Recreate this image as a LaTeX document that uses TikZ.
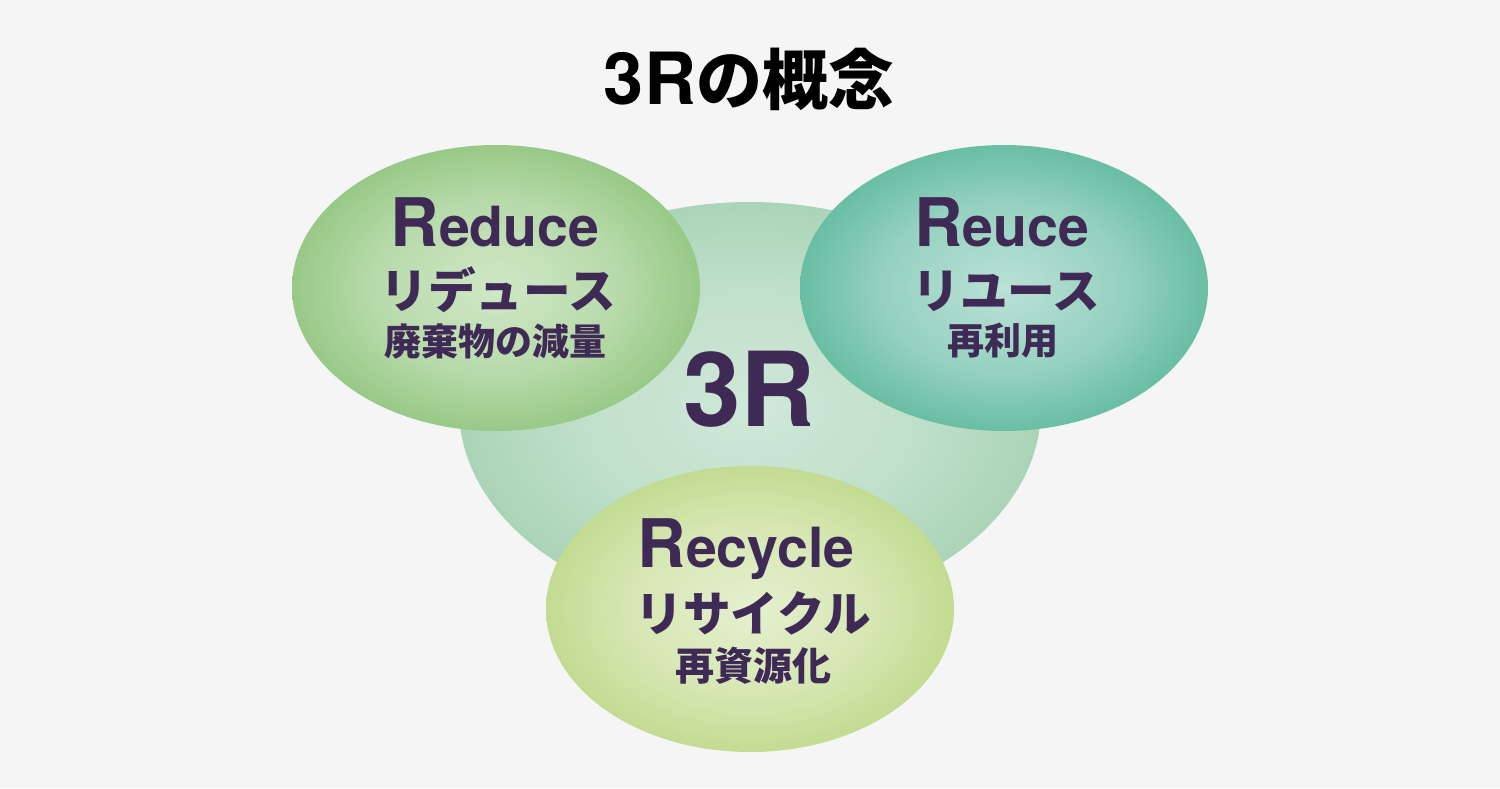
\documentclass[tikz,border=0pt]{standalone}
\usepackage{fontspec}
\setmainfont{TeX Gyre Heros}
\newfontfamily\cjk{Noto Sans CJK JP}
\definecolor{bg}{HTML}{F5F5F5}
\definecolor{txt}{HTML}{3E2A55}
\definecolor{bigin}{HTML}{D0E8D8}
\definecolor{bigout}{HTML}{AAD4B7}
\definecolor{redin}{HTML}{D0E8C6}
\definecolor{redout}{HTML}{98C987}
\definecolor{reuin}{HTML}{BAE1D6}
\definecolor{reuout}{HTML}{68BEA3}
\definecolor{recin}{HTML}{E5F0CE}
\definecolor{recout}{HTML}{C3DB91}
\pgfdeclareradialshading{bigsh}{\pgfpoint{0bp}{0bp}}{color(0bp)=(bigin); color(14bp)=(bigin!60!bigout); color(25bp)=(bigout); color(50bp)=(bigout)}
\pgfdeclareradialshading{redsh}{\pgfpoint{0bp}{0bp}}{color(0bp)=(redin); color(15bp)=(redin!55!redout); color(25bp)=(redout); color(50bp)=(redout)}
\pgfdeclareradialshading{reush}{\pgfpoint{0bp}{0bp}}{color(0bp)=(reuin); color(15bp)=(reuin!55!reuout); color(25bp)=(reuout); color(50bp)=(reuout)}
\pgfdeclareradialshading{recsh}{\pgfpoint{0bp}{0bp}}{color(0bp)=(recin); color(15bp)=(recin!55!recout); color(25bp)=(recout); color(50bp)=(recout)}
\newcommand{\bigR}{\fontsize{33.5pt}{38pt}\selectfont\bfseries}
\newcommand{\smlat}{\fontsize{27.7pt}{32pt}\selectfont\bfseries}
\newcommand{\kata}{\cjk\bfseries\fontsize{23.8pt}{28pt}\selectfont}
\newcommand{\kanj}{\cjk\bfseries\fontsize{18.5pt}{22pt}\selectfont}
\begin{document}
\begin{tikzpicture}[x=0.5pt,y=-0.5pt,
  lbl/.style={anchor=base,inner sep=0pt,text=txt}]
\fill[bg] (0,0) rectangle (1500,788);
\useasboundingbox (0,0) rectangle (1500,788);
% shapes
\shade[shading=bigsh] (750,408) ellipse [x radius=145.5pt, y radius=103pt];
\shade[shading=redsh] (496,288) ellipse [x radius=102pt, y radius=71.5pt];
\shade[shading=reush] (1004,288) ellipse [x radius=102pt, y radius=71.5pt];
\shade[shading=recsh] (750,609) ellipse [x radius=102pt, y radius=71.5pt];
% title
\node[anchor=base,inner sep=0pt,text=black] (title) at (749,104)
  {\fontsize{36pt}{42pt}\selectfont\bfseries 3R{\cjk\bfseries\fontsize{33pt}{38pt}\selectfont の概念}};
% center
\node[lbl] (three) at (749.5,426) {\fontsize{51.7pt}{58pt}\selectfont\bfseries 3R};
% reduce
\node[lbl] (redA) at (495,246) {\bigR R\smlat educe};
\node[lbl] (redB) at (498.5,308) {\kata リデュース};
\node[lbl] (redC) at (495.5,355) {\kanj 廃棄物の減量};
% reuse
\node[lbl] (reuA) at (1001.5,246) {\bigR R\smlat euce};
\node[lbl] (reuB) at (1006.5,308) {\kata リユース};
\node[lbl] (reuC) at (1003,354) {\kanj 再利用};
% recycle
\node[lbl] (recA) at (746,567) {\bigR R\smlat ecycle};
\node[lbl] (recB) at (753.5,631) {\kata リサイクル};
\node[lbl] (recC) at (753.5,680) {\cjk\bfseries\fontsize{19.5pt}{23pt}\selectfont 再資源化};
\end{tikzpicture}
\end{document}
